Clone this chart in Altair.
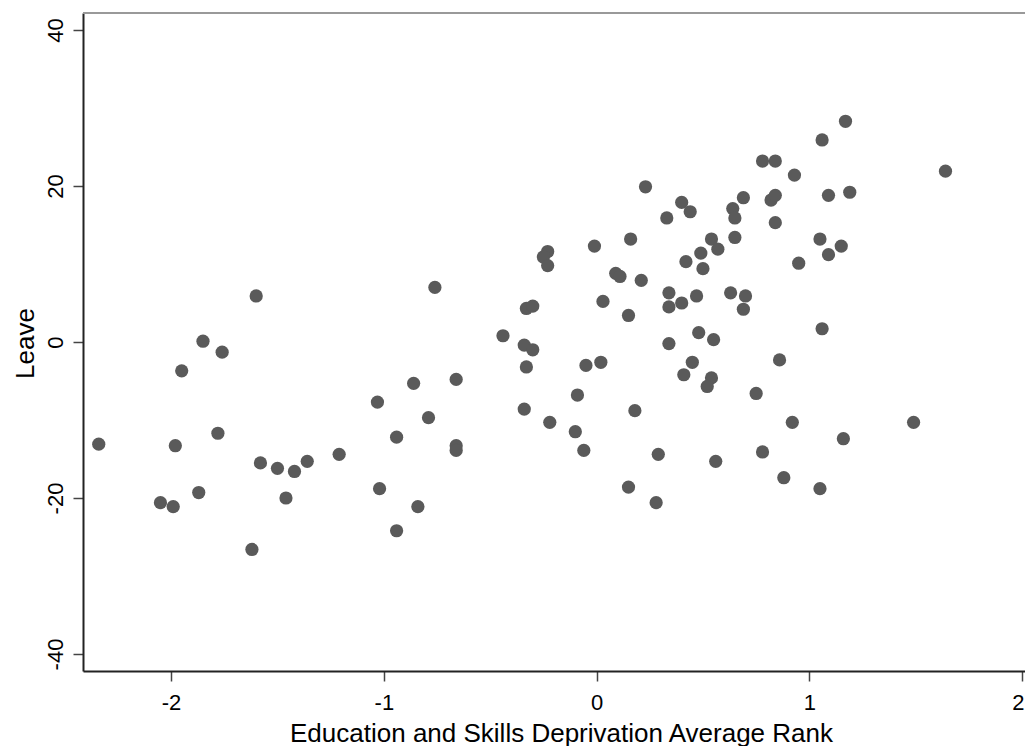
import altair as alt
import pandas as pd

x_vals = [-2.34, -1.98, -1.95, -1.85, -1.76, -1.78, -1.60, -2.05, -1.99, -1.87,
          -1.62, -1.58, -1.50, -1.42, -1.36, -1.46, -1.21, -1.03, -1.02, -0.94,
          -0.94, -0.86, -0.84, -0.79, -0.76, -0.66, -0.66, -0.66, -0.44, -0.34,
          -0.30, -0.33, -0.30, -0.33, -0.34, 0.78, 0.84, 0.23, 0.40, 0.44,
          0.33, 0.69, 0.64, 0.65, 0.82, 0.84, 0.84, 0.16, -0.01, 0.54,
          0.57, 0.49, 0.65, 0.42, 0.50, -0.23, -0.25, -0.23, 0.09, 0.11,
          0.21, 0.03, 0.15, 0.34, 0.34, 0.40, 0.47, 0.63, 0.70, 0.69,
          -0.05, 0.02, 0.34, 0.48, 0.55, 0.45, 0.41, 0.54, 0.52, 0.75,
          0.86, -0.09, -0.22, -0.10, -0.06, 0.18, 0.29, 0.15, 0.28, 0.56,
          0.78, 0.88, 1.17, 1.06, 0.93, 1.64, 1.09, 1.19, 1.05, 1.15,
          1.09, 0.95, 1.06, 0.92, 1.49, 1.16, 1.05]
y_vals = [-13.1, -13.3, -3.7, 0.1, -1.3, -11.7, 5.9, -20.6, -21.1, -19.3,
          -26.6, -15.5, -16.2, -16.6, -15.3, -20.0, -14.4, -7.7, -18.8, -12.2,
          -24.2, -5.3, -21.1, -9.7, 7.0, -4.8, -13.3, -13.9, 0.8, -0.4,
          -1.0, 4.3, 4.6, -3.2, -8.6, 23.2, 23.2, 19.9, 17.9, 16.7,
          15.9, 18.5, 17.1, 15.9, 18.2, 18.8, 15.3, 13.2, 12.3, 13.2,
          11.9, 11.4, 13.4, 10.3, 9.4, 11.6, 10.9, 9.8, 8.8, 8.4,
          7.9, 5.2, 3.4, 6.3, 4.5, 5.0, 5.9, 6.3, 5.9, 4.2,
          -3.0, -2.6, -0.2, 1.2, 0.3, -2.6, -4.2, -4.6, -5.7, -6.6,
          -2.3, -6.8, -10.3, -11.5, -13.9, -8.8, -14.4, -18.6, -20.6, -15.3,
          -14.1, -17.4, 28.3, 25.9, 21.4, 21.9, 18.8, 19.2, 13.2, 12.3,
          11.2, 10.1, 1.7, -10.3, -10.3, -12.4, -18.8]

x_ticks = [-2, -1, 0, 1, 2]
y_ticks = [-40, -20, 0, 20, 40]

df = pd.DataFrame({"x": x_vals, "y": y_vals})

W = 942
H = 658
FONT = "Liberation Sans"
LABEL_EXPR = "datum.value < 0 ? '-' + abs(datum.value) : '' + datum.value"

points = alt.Chart(df).mark_circle(size=175, color="#5a5a5a", opacity=1).encode(
    x=alt.X(
        "x:Q",
        scale=alt.Scale(domain=[-2.414, 2.0137], nice=False, zero=False),
        axis=alt.Axis(
            values=x_ticks,
            labelExpr=LABEL_EXPR,
            title="Education and Skills Deprivation Average Rank",
            grid=False,
            tickSize=10,
            tickWidth=1.5,
            tickColor="#444444",
            domainColor="#222222",
            domainWidth=2,
            labelFont=FONT,
            labelFontSize=22,
            labelColor="#000000",
            labelBaseline="alphabetic",
            labelPadding=28,
            labelFlush=5,
            labelFlushOffset=2,
            titleFont=FONT,
            titleFontSize=26,
            titleFontWeight="normal",
            titleColor="#000000",
            titleX=478,
            titleY=70,
            titleBaseline="alphabetic",
            titleAlign="center",
        ),
    ),
    y=alt.Y(
        "y:Q",
        scale=alt.Scale(domain=[-42.18, 42.18], nice=False, zero=False),
        axis=alt.Axis(
            values=y_ticks,
            labelExpr=LABEL_EXPR,
            title="Leave",
            grid=False,
            tickSize=10,
            tickWidth=1.5,
            tickColor="#444444",
            domainColor="#222222",
            domainWidth=2,
            labelFont=FONT,
            labelFontSize=22,
            labelColor="#000000",
            labelAngle=270,
            labelAlign="center",
            labelBaseline="alphabetic",
            labelPadding=11,
            labelFlush=False,
            titleFont=FONT,
            titleFontSize=26,
            titleFontWeight="normal",
            titleColor="#000000",
            titleAngle=270,
            titleX=-50,
            titleY=330,
            titleBaseline="alphabetic",
            titleAlign="center",
        ),
    ),
)

top_border = alt.Chart(df).mark_rule(color="#999999", strokeWidth=2).encode(
    x=alt.value(0), x2=alt.value(W), y=alt.value(0)
)

chart = alt.layer(points, top_border).properties(
    width=W,
    height=H,
    autosize=alt.AutoSizeParams(type="none"),
    padding={"left": 75, "top": 5, "right": 0, "bottom": 75},
    background="#ffffff",
).configure_view(stroke=None)

chart.save("out.html", embed_options={"renderer": "svg", "actions": False})
